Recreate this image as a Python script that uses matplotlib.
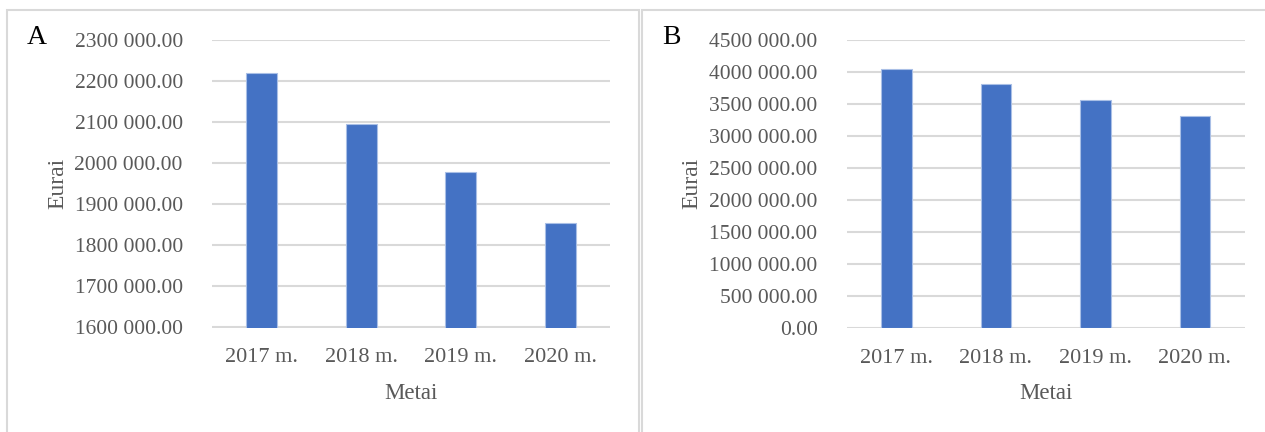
import numpy as np
import matplotlib
matplotlib.use('Agg')
import matplotlib.pyplot as plt
from matplotlib.patches import Rectangle
from matplotlib.ticker import FuncFormatter, MultipleLocator

plt.rcParams['font.family'] = ['Liberation Serif', 'DejaVu Serif']

years = ['2017 m.', '2018 m.', '2019 m.', '2020 m.']
values_a = [2219000, 2094500, 1977500, 1855500]
values_b = [4042000, 3818000, 3562000, 3312000]

bar_color = '#4472C4'
grid_color = '#d9d9d9'
text_color = '#595959'

W, H = 1265, 432


def eur_fmt(v, pos):
    v = int(round(v))
    if v == 0:
        return '0.00'
    return '%d %03d.00' % (v // 1000, v % 1000)


def draw_panel(ax, vals, ylim, step):
    x = np.arange(len(years))
    ax.bar(x, vals, width=0.31, color=bar_color, edgecolor='#a9bfe6',
           linewidth=0.8, zorder=3)
    ax.set_xlim(-0.5, len(years) - 0.5)
    ax.set_ylim(*ylim)
    ax.yaxis.set_major_locator(MultipleLocator(step))
    ax.yaxis.set_major_formatter(FuncFormatter(eur_fmt))
    ax.set_xticks(x)
    ax.set_xticklabels(years)
    ax.grid(axis='y', color=grid_color, linewidth=1.5, zorder=0)
    for s in ax.spines.values():
        s.set_visible(False)
    ax.tick_params(axis='both', length=0, colors=text_color, labelsize=15.5)
    ax.tick_params(axis='y', pad=21)
    ax.tick_params(axis='x', pad=15, labelsize=16)
    ax.set_ylabel('Eurai', fontsize=17, color=text_color)
    ax.yaxis.set_label_coords(-0.362, 0.5)
    ax.set_xlabel('Metai', fontsize=16.5, color=text_color)
    ax.xaxis.set_label_coords(0.5, -0.228)
    ax.xaxis.label.set_va('center')


fig = plt.figure(figsize=(W / 100, H / 100), dpi=100)

# panel frames
for x0, x1 in [(7, 639), (642, 1275)]:
    fig.patches.append(Rectangle((x0 / W, -0.05), (x1 - x0) / W, (H - 10) / H + 0.05,
                                 transform=fig.transFigure, fill=False,
                                 edgecolor=grid_color, linewidth=1.5))

ax1 = fig.add_axes([212 / W, (H - 327.5) / H, 398 / W, 287.5 / H])
draw_panel(ax1, values_a, (1600000, 2300000), 100000)

ax2 = fig.add_axes([846.7 / W, (H - 327.7) / H, 398 / W, 287.7 / H])
draw_panel(ax2, values_b, (0, 4500000), 500000)

fig.text(37 / W, 1 - 38 / H, 'A', fontsize=20, ha='center', va='center', color='black')
fig.text(671 / W, 1 - 38 / H, 'B', fontsize=20, ha='center', va='center', color='black')

fig.savefig('out.png', dpi=100)
